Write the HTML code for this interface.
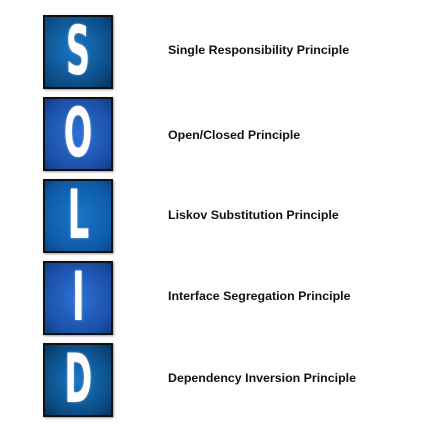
<!DOCTYPE html>
<html><head><meta charset="utf-8"><style>
body{margin:0;width:437px;height:437px;background:#fff;position:relative;overflow:hidden;font-family:"Liberation Sans",sans-serif}
.tile{position:absolute;left:43px;width:66px;height:70px;border:2px solid #111;box-shadow:1px 1px 2px #999;display:flex;align-items:center;justify-content:center;overflow:hidden}
.tile span{color:#fff;font-weight:bold;font-size:68px;font-family:"DejaVu Sans Condensed","Liberation Sans",sans-serif;transform:scaleX(0.55);line-height:1;text-shadow:0 0 3px rgba(255,255,255,.5)}
.lab{position:absolute;left:168px;font-weight:bold;font-size:12.4px;color:#111;transform:translateY(-50%);white-space:nowrap}
</style></head><body>
<div class="tile" style="top:15px;background:radial-gradient(circle at 45% 45%,#1a78c8,#0a4a80 75%,#06335a)"><span>S</span></div>
<div class="tile" style="top:97px;background:radial-gradient(circle at 50% 50%,#2d72d6,#1a4fa8 75%,#123a80)"><span>O</span></div>
<div class="tile" style="top:179px;background:radial-gradient(circle at 50% 50%,#1a78c8,#0d5aa8 75%,#094380)"><span>L</span></div>
<div class="tile" style="top:261px;background:radial-gradient(circle at 50% 50%,#2d72d6,#1a4fa8 75%,#123a80)"><span>I</span></div>
<div class="tile" style="top:343px;background:radial-gradient(circle at 50% 50%,#1a78c8,#0a4a80 75%,#06335a)"><span>D</span></div>
<div class="lab" style="top:50px">Single Responsibility Principle</div>
<div class="lab" style="top:135px">Open/Closed Principle</div>
<div class="lab" style="top:215px">Liskov Substitution Principle</div>
<div class="lab" style="top:296px">Interface Segregation Principle</div>
<div class="lab" style="top:378px">Dependency Inversion Principle</div>
</body></html>
